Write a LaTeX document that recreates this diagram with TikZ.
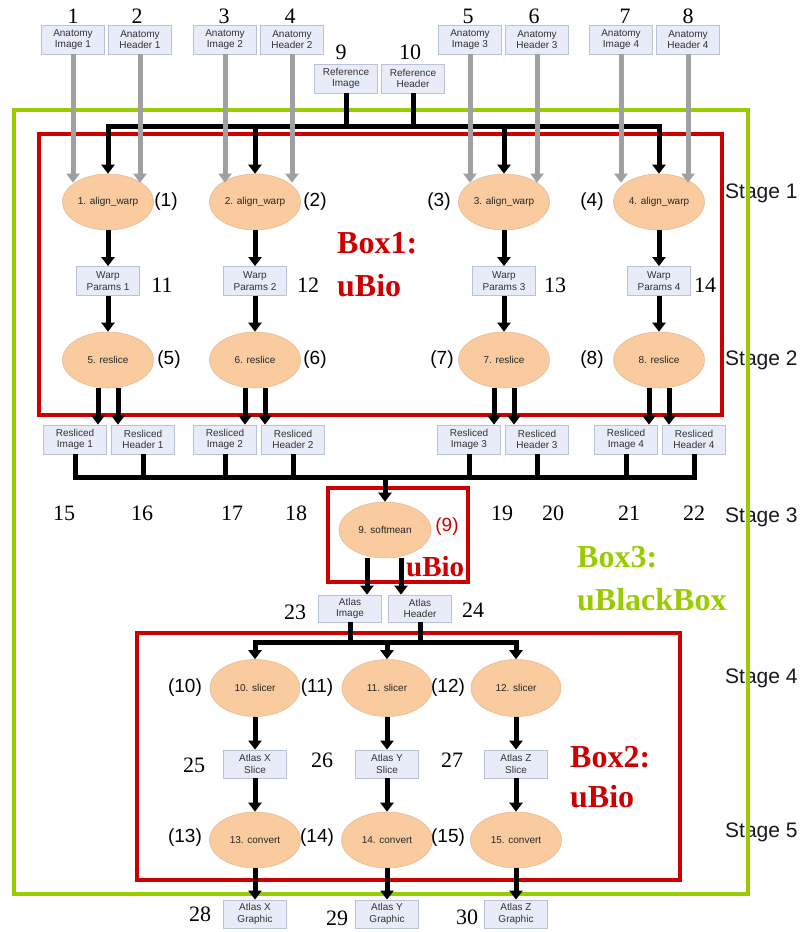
\documentclass[tikz,border=0pt]{standalone}
\usepackage{fontspec}
\setmainfont{Liberation Serif}
\setsansfont{Liberation Sans}
\usepackage{tikz}
\usetikzlibrary{positioning,calc}
\usetikzlibrary{arrows.meta,shapes.geometric}
\definecolor{BoxFill}{RGB}{232,236,248}
\definecolor{BoxLine}{RGB}{185,195,215}
\definecolor{NodeFill}{RGB}{250,203,158}
\definecolor{NodeLine}{RGB}{226,188,152}
\definecolor{FrameRed}{RGB}{204,0,0}
\definecolor{FrameGreen}{RGB}{153,204,0}
\definecolor{FeedGray}{RGB}{160,160,160}
\tikzset{
  data/.style={rectangle,draw=BoxLine,fill=BoxFill,line width=0.8pt,minimum width=63pt,
    minimum height=29pt,inner sep=1pt,align=center,text=black!80,
    font=\sffamily\fontsize{10}{11.5}\selectfont},
  proc/.style={ellipse,draw=NodeLine,fill=NodeFill,line width=0.6pt,minimum width=91pt,
    minimum height=56pt,inner sep=0pt,text=black!85,font=\sffamily\fontsize{10}{12}\selectfont},
  num/.style={inner sep=0pt,font=\fontsize{22}{22}\selectfont},
  tag/.style={inner sep=0pt,font=\sffamily\fontsize{19}{19}\selectfont},
  stagelbl/.style={anchor=west,inner sep=0pt,text=black!90,font=\sffamily\fontsize{21}{21}\selectfont},
  boxlbl/.style={anchor=west,inner sep=0pt,align=left,font=\bfseries\fontsize{32}{43}\selectfont},
  flow/.style={draw=black,line width=5pt,-{Triangle[width=13pt,length=9pt]}},
  bus/.style={draw=black,line width=5pt},
  feed/.style={draw=FeedGray,line width=5pt,-{Triangle[width=13pt,length=9pt]}},
  frame/.style={line width=4pt},
}
\begin{document}
\begin{tikzpicture}[x=1pt,y=-1pt]
    \useasboundingbox (0,0) rectangle (809,932);
    % inputs
    \foreach \i/\x in {1/73,2/225,3/470,4/621}{
      \node[data] (ai\i) at (\x,39.5) {Anatomy\\Image \i};
      \node[data] (ah\i) at (\x+67,39.5) {Anatomy\\Header \i};
    }
    \node[data] (ri) at (346,78.5) {Reference\\Image};
    \node[data] (rh) at (413,78.5) {Reference\\Header};
    % stages 1 and 2
    \foreach \i/\x/\r in {1/108/75,2/255/225,3/504/469,4/659/626}{
      \pgfmathtruncatemacro\k{\i+4}
      \node[proc] (aw\i) at (\x,202) {\i. align\_warp};
      \node[data] (wp\i) at (\x,281) {Warp\\Params \i};
      \node[proc] (rs\i) at (\x,360) {\k. reslice};
      \node[data] (rimg\i) at (\r,439.5) {Resliced\\Image \i};
      \node[data] (rhdr\i) at (\r+68,439.5) {Resliced\\Header \i};
    }
    % stage 3
    \node[proc,minimum width=92pt] (sm) at (385,530) {9. softmean};
    \node[data,minimum height=27pt] (aimg) at (350,608.5) {Atlas\\Image};
    \node[data,minimum height=27pt] (ahdr) at (420,608.5) {Atlas\\Header};
    % stages 4 and 5
    \foreach \i/\ax/\x in {10/X/255,11/Y/387,12/Z/516}{
      \pgfmathtruncatemacro\k{\i+3}
      \node[proc,minimum width=90pt,minimum height=57pt] (sl\ax) at (\x,688) {\i. slicer};
      \node[data,minimum height=28pt] (sc\ax) at (\x,764) {Atlas \ax\\Slice};
      \node[proc] (cv\ax) at (\x,840) {\k. convert};
      \node[data,minimum height=28pt] (gr\ax) at (\x,914) {Atlas \ax\\Graphic};
    }
    % labels
    \foreach \n/\x/\y in {1/73/16,2/137/16,3/224/16,4/290/16,5/468/16,6/534/16,7/625/16,8/688/16,
      9/341/52,10/410/52,11/162/285,12/308/285,13/555/285,14/705/285,
      15/64/513,16/142/513,17/232/513,18/296/513,19/502/513,20/553/513,21/629/513,22/694/513,
      23/295/612,24/473/610,25/194/765,26/322/760,27/452/760,28/200/914,29/337/918,30/467/917}
      \node[num] (n\n) at (\x,\y) {\n};
    \foreach \t/\x/\y in {1/166/202,2/315/202,3/439/202,4/592/202,5/169/360,6/315/360,7/442/360,
      8/592/360,10/185/688,11/317/688,12/448/688,13/185/838,14/317/838,15/448/838}
      \node[tag] (t\t) at (\x,\y) {(\t)};
    \node[tag,text=FrameRed] (t9) at (447,527) {(9)};
    \foreach \s/\y in {1/193,2/360,3/517,4/678,5/832}
      \node[stagelbl] (st\s) at (725,\y) {Stage \s};
    \node[boxlbl,text=FrameRed] (lb1) at (337,264.5) {Box1:\\uBio};
    \node[boxlbl,text=FrameGreen] (lb3) at (577,578.5) {Box3:\\uBlackBox};
    \node[boxlbl,text=FrameRed,font=\bfseries\fontsize{32}{40}\selectfont] (lb2) at (570,777) {Box2:\\uBio};
    \node[boxlbl,text=FrameRed,font=\bfseries\fontsize{29}{29}\selectfont] (lbs) at (406,567) {uBio};
    % frames
    \draw[frame,FrameGreen] (14,110) rectangle (748,894);
    \draw[frame,FrameRed] (39,134) rectangle (722,415);
    \draw[frame,FrameRed] (328,488) rectangle (468,582);
    \draw[frame,FrameRed] (137,633) rectangle (680,880);
    % connectors
    \coordinate (topbus) at (0,126);
    \coordinate (lowbus) at (0,477);
    \coordinate (slbus) at (0,642);
    \draw[bus,line cap=rect] (aw1.north |- topbus) -- (aw4.north |- topbus);
    \draw[bus] (ri.south) -- (ri.south |- topbus);
    \draw[bus] (rh.south) -- (rh.south |- topbus);
    \draw[bus] (rimg1.south) |- (rhdr4.south |- lowbus) -- (rhdr4.south);
    \foreach \b in {rhdr1,rimg2,rhdr2,rimg3,rhdr3,rimg4}
      \draw[bus] (\b.south) -- (\b.south |- lowbus);
    \foreach \i in {1,...,4}{
      \draw[flow] (aw\i.north |- topbus) -- (aw\i.north);
      \draw[flow] (aw\i) -- (wp\i);
      \draw[flow] (wp\i) -- (rs\i);
      \draw[flow] ([xshift=-10pt]rs\i.south) -- ([xshift=-10pt]rs\i.south |- rimg\i.north);
      \draw[flow] ([xshift=10pt]rs\i.south) -- ([xshift=10pt]rs\i.south |- rhdr\i.north);
      \draw[feed] (ai\i.south) -- (ai\i.south |- aw\i.150);
      \draw[feed] (ah\i.south) -- (ah\i.south |- aw\i.30);
    }
    \draw[flow] (sm.north |- lowbus) -- (sm.north);
    \draw[flow] ([xshift=-18pt]sm.south) -- ([xshift=-18pt]sm.south |- aimg.north);
    \draw[flow] ([xshift=16pt]sm.south) -- ([xshift=16pt]sm.south |- ahdr.north);
    \draw[bus] (aimg.south) -- (aimg.south |- slbus);
    \draw[bus] (ahdr.south) -- (ahdr.south |- slbus);
    \draw[bus,line cap=rect] (slX.north |- slbus) -- (slZ.north |- slbus);
    \foreach \ax in {X,Y,Z}{
      \draw[flow] (sl\ax.north |- slbus) -- (sl\ax.north);
      \draw[flow] (sl\ax) -- (sc\ax);
      \draw[flow] (sc\ax) -- (cv\ax);
      \draw[flow] (cv\ax) -- (gr\ax);
    }
\end{tikzpicture}
\end{document}
